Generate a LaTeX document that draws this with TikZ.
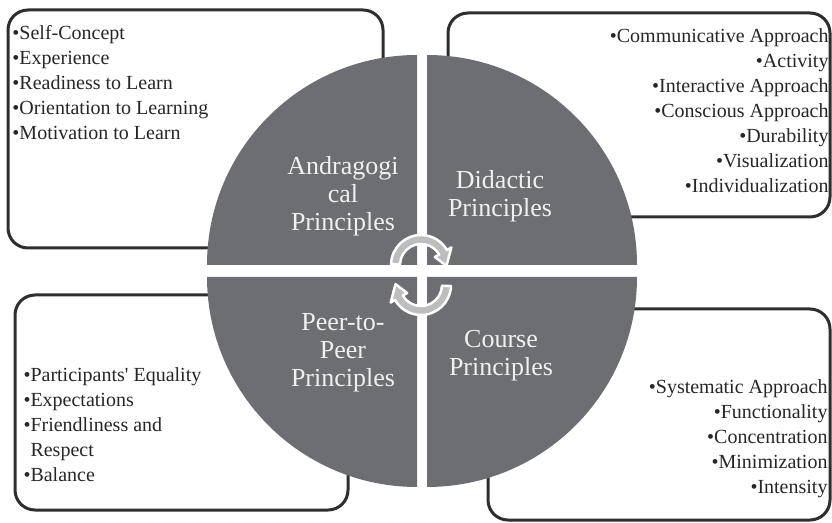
\documentclass[tikz,border=0pt]{standalone}
\usepackage{fontspec}
\setmainfont{Liberation Serif}[Ligatures=TeXOff]
\usetikzlibrary{positioning}

\definecolor{quadgray}{HTML}{6D6E71}
\definecolor{ringgray}{HTML}{BDBDBD}
\definecolor{boxline}{HTML}{2E2E2E}

\begin{document}
\begin{tikzpicture}[x=1pt, y=1pt,
  panel/.style={draw=boxline, line width=3pt, rounded corners=20pt, inner sep=0pt},
  items/.style={inner sep=0pt, outer sep=0pt, text=black!85, font=\fontsize{20}{25}\selectfont},
  quad/.style={fill=quadgray},
  title/.style={text=white!94!black, align=center, font=\fontsize{26}{28}\selectfont},
  turn/.style={fill=ringgray, draw=white, line width=2.5pt, line join=round}]
\useasboundingbox (0,0) rectangle (832,522);

% outer boxes
\node[panel, minimum width=375pt, minimum height=238pt] (andrabox) at (195.5,393) {};
\node[panel, minimum width=382pt, minimum height=204pt] (didacbox) at (639,407) {};
\node[panel, minimum width=333pt, minimum height=215pt] (peerbox) at (181.5,119.5) {};
\node[panel, minimum width=342pt, minimum height=211pt] (coursebox) at (659,107.5) {};

\node[items, align=left, below right=17pt and 6pt of andrabox.north west] (andralist)
  {•Self-Concept\\•Experience\\•Readiness to Learn\\•Orientation to Learning\\•Motivation to Learn};
\node[items, align=right, below left=17pt and 3pt of didacbox.north east] (didaclist)
  {•Communicative Approach\\•Activity\\•Interactive Approach\\•Conscious Approach\\•Durability\\•Visualization\\•Individualization};
\node[items, align=left, below right=74pt and 10pt of peerbox.north west] (peerlist)
  {•Participants' Equality\\•Expectations\\•Friendliness and\\\hphantom{•}Respect\\•Balance};
\node[items, align=right, below left=72pt and 4pt of coursebox.north east] (courselist)
  {•Systematic Approach\\•Functionality\\•Concentration\\•Minimization\\•Intensity};

% the four quarters
\fill[quad] (417,257) -- (207,257) arc[start angle=180, end angle=90, radius=210] -- cycle;
\fill[quad] (427,257) -- (427,467) arc[start angle=90, end angle=0, radius=210] -- cycle;
\fill[quad] (417,245) -- (417,35) arc[start angle=270, end angle=180, radius=210] -- cycle;
\fill[quad] (427,245) -- (637,245) arc[start angle=0, end angle=-90, radius=210] -- cycle;

\node[title] (andra) at (343,326) {Andragogi\\cal\\Principles};
\node[title] (didac) at (500,326) {Didactic\\Principles};
\node[title] (peer) at (343,169.5) {Peer-to-\\Peer\\Principles};
\node[title] (course) at (501,166) {Course\\Principles};

% turning arrows
\begin{scope}[shift={(421,257)}]
\filldraw[turn] (178:30) arc[start angle=178, end angle=30, radius=30] -- (30:35) -- (-2:25.5)
  -- (30:16) -- (30:21) arc[start angle=30, end angle=178, radius=21] -- cycle;
\end{scope}
\begin{scope}[shift={(421,237)}]
\filldraw[turn] (-2:30) arc[start angle=-2, end angle=-150, radius=30] -- (-150:35) -- (-182:25.5)
  -- (-150:16) -- (-150:21) arc[start angle=-150, end angle=-2, radius=21] -- cycle;
\end{scope}
\end{tikzpicture}
\end{document}
